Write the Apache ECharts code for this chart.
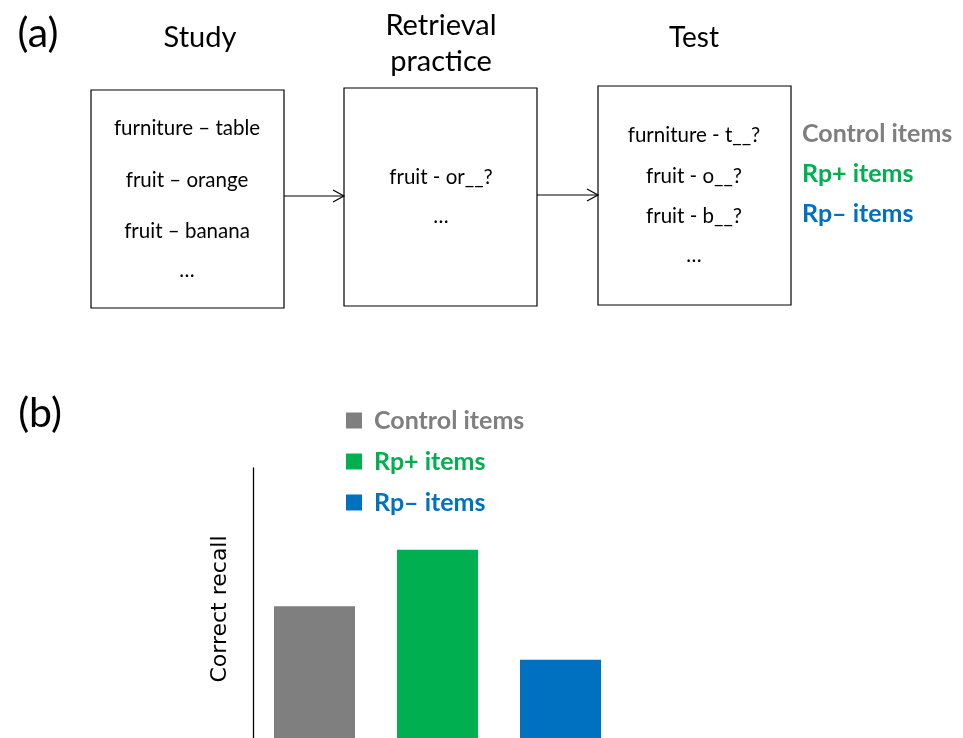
<!DOCTYPE html>
<html>
<head>
<meta charset="utf-8">
<script src="https://cdn.jsdelivr.net/npm/echarts@6/dist/echarts.min.js"></script>
<style>
html,body{margin:0;padding:0;background:#fff;}
#c{width:963px;height:738px;}
</style>
</head>
<body>
<div id="c"></div>
<script>
// ---- data ----
const categories = ['Control items', 'Rp+ items', 'Rp– items'];
const recallValues = [0.51, 0.71, 0.32];
const stageTitles = ['Study', 'Retrieval\npractice', 'Test'];
const studyPairs = ['furniture – table', 'fruit – orange', 'fruit – banana', '…'];
const practiceCues = ['fruit - or__?', '…'];
const testCues = ['furniture - t__?', 'fruit - o__?', 'fruit - b__?', '…'];
const panelLabels = ['(a)', '(b)'];
const yAxisName = 'Correct recall';

// ---- styles ----
const itemColors = ['#7f7f7f', '#00b050', '#0070c0'];
const FONT = 'Lato';

const chart = echarts.init(document.getElementById('c'), null, {renderer: 'canvas'});

function txt(text, x, y, size, opts) {
  opts = opts || {};
  return {
    type: 'text', x: x, y: y, silent: true,
    style: {
      text: text, fill: opts.color || '#000',
      font: (opts.weight || 'normal') + ' ' + size + 'px ' + FONT,
      textAlign: opts.align || 'center', textVerticalAlign: 'middle',
      lineHeight: opts.lineHeight
    }
  };
}
function box(x, y, w, h) {
  return {type: 'rect', silent: true, shape: {x: x, y: y, width: w, height: h},
    style: {fill: '#fff', stroke: '#000', lineWidth: 1.2}};
}
function arrow(x1, x2, y) {
  return [
    {type: 'line', silent: true, shape: {x1: x1, y1: y, x2: x2, y2: y}, style: {stroke: '#000', lineWidth: 1.2}},
    {type: 'polyline', silent: true, shape: {points: [[x2 - 11, y - 6], [x2, y], [x2 - 11, y + 6]]}, style: {stroke: '#000', lineWidth: 1.2, fill: null}}
  ];
}

const graphics = [];
graphics.push(txt(panelLabels[0], 38, 34, 41));
graphics.push(txt(panelLabels[1], 40, 414, 41));
// stage titles
graphics.push(txt(stageTitles[0], 200, 38, 29));
graphics.push(txt(stageTitles[1], 441, 44, 29, {lineHeight: 36}));
graphics.push(txt(stageTitles[2], 694, 38, 28));
// boxes
graphics.push(box(91, 90, 193, 218));
graphics.push(box(344, 88, 193, 218));
graphics.push(box(598, 86, 193, 219));
graphics.push.apply(graphics, arrow(284, 344, 196));
graphics.push.apply(graphics, arrow(537, 598, 195));
// box contents
const studyY = [128, 180, 231, 270];
studyPairs.forEach((t, i) => graphics.push(txt(t, 187, studyY[i], 20.5)));
const practiceY = [177, 216];
practiceCues.forEach((t, i) => graphics.push(txt(t, 441, practiceY[i], 20.5)));
const testY = [135, 176, 216, 255];
testCues.forEach((t, i) => graphics.push(txt(t, 694, testY[i], 20.5)));
// item labels right of test box
const labelY = [134, 174, 214];
categories.forEach((t, i) => graphics.push(txt(t, 802, labelY[i], 25, {align: 'left', weight: 'bold', color: itemColors[i]})));

const option = {
  animation: false,
  backgroundColor: '#fff',
  graphic: graphics,
  legend: {
    orient: 'vertical', left: 341, top: 403,
    itemWidth: 16, itemHeight: 16, itemGap: 16, icon: 'rect',
    selectedMode: false,
    data: categories.map((c, i) => ({name: c, textStyle: {color: itemColors[i]}})),
    textStyle: {fontFamily: FONT, fontWeight: 'bold', fontSize: 25, padding: [0, 0, 0, 7]}
  },
  grid: {left: 253, top: 468, width: 369, height: 282, containLabel: false, outerBoundsMode: 'none'},
  xAxis: {
    type: 'category', data: categories,
    axisLine: {show: false}, axisTick: {show: false}, axisLabel: {show: false}, splitLine: {show: false}
  },
  yAxis: {
    type: 'value', min: 0, max: 1,
    name: yAxisName, nameLocation: 'middle', nameGap: 22, nameRotate: 90,
    nameTextStyle: {fontFamily: 'DejaVu Sans', fontSize: 22, color: '#000'},
    axisLine: {show: true, lineStyle: {color: '#000', width: 1.3}},
    axisTick: {show: false}, axisLabel: {show: false}, splitLine: {show: false}
  },
  series: categories.map((c, i) => ({
    name: c, type: 'bar', stack: 'items', barWidth: 81,
    itemStyle: {color: itemColors[i]},
    data: categories.map((_, j) => j === i ? recallValues[i] : '-')
  }))
};
chart.setOption(option);
</script>
</body>
</html>
